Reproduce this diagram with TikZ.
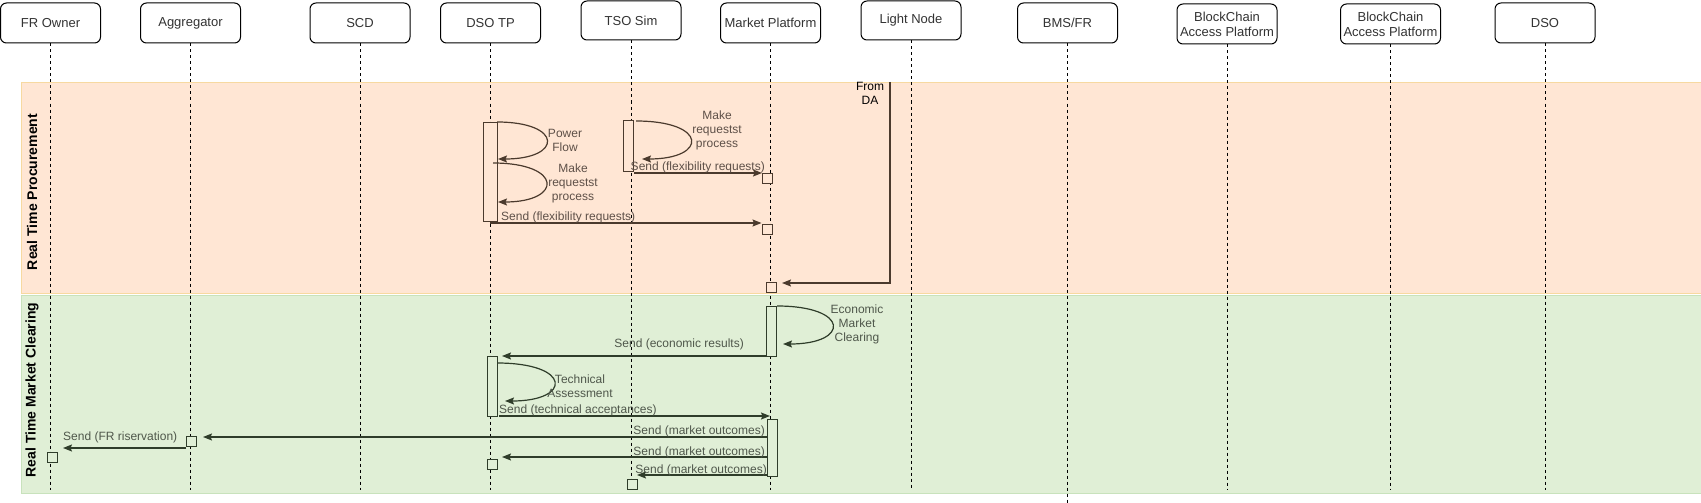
\documentclass[tikz,border=0pt]{standalone}
\usepackage{fontspec}
\setmainfont{Liberation Sans}
\usetikzlibrary{arrows.meta}
\definecolor{orfill}{HTML}{FFE6D4}
\definecolor{ordraw}{HTML}{F7D9A0}
\definecolor{grfill}{HTML}{E0EFD6}
\definecolor{grdraw}{HTML}{C8E2BC}
\definecolor{orline}{HTML}{4B3A2D}
\definecolor{grline}{HTML}{2F3D2A}
\definecolor{ortext}{HTML}{5E5048}
\definecolor{grtext}{HTML}{4F574B}
\definecolor{hdrtext}{HTML}{333333}
\tikzset{
  hdr/.style={draw=black, fill=white, line width=1pt, rounded corners=6pt, minimum width=100pt, minimum height=40pt, inner sep=1pt, align=center, font=\fontsize{13}{15}\selectfont, text=hdrtext},
  life/.style={draw=black, line width=0.8pt, dash pattern=on 3pt off 3pt},
  bandlabel/.style={rotate=90, font=\bfseries\fontsize{14}{16}\selectfont, text=black, inner sep=0},
  act/.style={draw, line width=1pt, inner sep=0, minimum width=10pt},
  dot/.style={draw, line width=1pt, minimum size=10pt, inner sep=0},
  msg/.style={line width=1.2pt, -{Stealth[length=9pt,width=7pt,inset=1.5pt]}},
  lbl/.style={font=\fontsize{12}{14}\selectfont, inner sep=0, align=center},
}
\begin{document}
\begin{tikzpicture}[x=1pt,y=-1pt]
\useasboundingbox (0,0) rectangle (1701,503);
% bands
\node[draw=ordraw, fill=orfill, line width=0.8pt, minimum width=1680pt, minimum height=210.5pt, inner sep=0, anchor=north west] (bandA) at (20.5,82) {};
\node[draw=grdraw, fill=grfill, line width=0.8pt, minimum width=1680pt, minimum height=198.5pt, inner sep=0, anchor=north west] (bandB) at (20.5,294.5) {};
\node[bandlabel] (labA) at (32,192) {Real Time Procurement};
\node[bandlabel] (labB) at (32,390) {Real Time Market Clearing};
% headers
\node[hdr] (fro) at (50.5,23) {FR Owner};
\node[hdr] (agg) at (190.5,23) {Aggregator};
\node[hdr] (scd) at (360,23) {SCD};
\node[hdr] (dtp) at (490.5,23) {DSO TP};
\node[hdr, minimum height=39pt] (tso) at (631,20.5) {TSO Sim};
\node[hdr] (mkp) at (770.5,23) {Market Platform};
\node[hdr, minimum height=39pt] (lgn) at (911,20.5) {Light Node};
\node[hdr] (bms) at (1067.5,23) {BMS/FR};
\node[hdr] (bc1) at (1227,24) {BlockChain\\Access Platform};
\node[hdr] (bc2) at (1390.5,24) {BlockChain\\Access Platform};
\node[hdr] (dso) at (1545,23) {DSO};
% lifeline ends
\coordinate (froE) at (50.5,490);
\coordinate (aggE) at (190.5,490);
\coordinate (scdE) at (360,490);
\coordinate (dtpE) at (490.5,490);
\coordinate (tsoE) at (631,490);
\coordinate (mkpE) at (770.5,490);
\coordinate (lgnE) at (911,490);
\coordinate (bmsE) at (1067.5,503);
\coordinate (bc1E) at (1227,490);
\coordinate (bc2E) at (1390.5,490);
\coordinate (dsoE) at (1545,490);
\foreach \n in {fro,agg,scd,dtp,tso,mkp,lgn,bms,bc1,bc2,dso}{
  \draw[life] (\n.south) -- (\n E);
}
% ---------- Real Time Procurement ----------
\node[act, draw=orline, fill=orfill, minimum width=14pt, minimum height=99pt] (a1) at (490,171.5) {};
\node[act, draw=orline, fill=orfill, minimum height=51pt] (a2) at (628,145.5) {};
\node[dot, draw=orline, fill=orfill] (p1) at (767.5,178) {};
\node[dot, draw=orline, fill=orfill] (p2) at (767,229) {};
\node[dot, draw=orline, fill=orfill] (p3) at (771,287) {};
% self loops
\coordinate (l1s) at (497,122); \coordinate (l1e) at (498,159);
\draw[msg, draw=orline] (l1s) .. controls (563,122) and (563,159) .. (l1e);
\node[lbl, text=ortext] (t1) at (565,140) {Power\\Flow};
\coordinate (l2s) at (493,163); \coordinate (l2e) at (498,202);
\draw[msg, draw=orline] (l2s) .. controls (563,163) and (563,202) .. (l2e);
\node[lbl, text=ortext] (t2) at (573,183) {Make\\requestst\\process};
\coordinate (l3s) at (636,121); \coordinate (l3e) at (642,159);
\draw[msg, draw=orline] (l3s) .. controls (708,121) and (708,159) .. (l3e);
\node[lbl, text=ortext] (t3) at (717,130) {Make\\requestst\\process};
% messages
\coordinate (m1s) at (634,173);
\draw[msg, draw=orline] (m1s) -- (p1.west |- m1s);
\node[lbl, text=ortext, anchor=east] (t4) at (765,167) {Send (flexibility requests)};
\coordinate (m2s) at (490,223);
\draw[msg, draw=orline] (m2s) -- (p2.west |- m2s);
\node[lbl, text=ortext, anchor=west] (t5) at (501,217) {Send (flexibility requests)};
\coordinate (da1) at (890,82); \coordinate (da2) at (890,283); \coordinate (da3) at (782,283);
\draw[msg, draw=orline] (da1) -- (da2) -- (da3);
\node[lbl, text=black] (t6) at (870,93) {From\\DA};
% ---------- Real Time Market Clearing ----------
\node[act, draw=grline, fill=grfill, minimum height=50pt] (b1) at (771,331) {};
\node[act, draw=grline, fill=grfill, minimum height=60pt] (b2) at (492,386) {};
\node[act, draw=grline, fill=grfill, minimum height=57pt] (b3) at (772.5,447.5) {};
\node[dot, draw=grline, fill=grfill] (q1) at (191.5,441) {};
\node[dot, draw=grline, fill=grfill] (q2) at (52,457) {};
\node[dot, draw=grline, fill=grfill] (q3) at (492,464) {};
\node[dot, draw=grline, fill=grfill] (q4) at (632,484) {};
% loops
\coordinate (l4s) at (777,306); \coordinate (l4e) at (783,344);
\draw[msg, draw=grline] (l4s) .. controls (850,306) and (850,344) .. (l4e);
\node[lbl, text=grtext] (t7) at (857,324) {Economic\\Market\\Clearing};
\coordinate (l5s) at (497,363); \coordinate (l5e) at (505,401);
\draw[msg, draw=grline] (l5s) .. controls (572,363) and (572,401) .. (l5e);
\node[lbl, text=grtext] (t8) at (580,386) {Technical\\Assessment};
% messages
\coordinate (n1s) at (766,356); \coordinate (n1e) at (502,356);
\draw[msg, draw=grline] (n1s) -- (n1e);
\node[lbl, text=grtext, anchor=east] (t9) at (744,344) {Send (economic results)};
\coordinate (n2s) at (499,416); \coordinate (n2e) at (770,416);
\draw[msg, draw=grline] (n2s) -- (n2e);
\node[lbl, text=grtext, anchor=west] (t10) at (499,410) {Send (technical acceptances)};
\coordinate (n3s) at (768,437); \coordinate (n3e) at (203,437);
\draw[msg, draw=grline] (n3s) -- (n3e);
\node[lbl, text=grtext, anchor=east] (t11) at (765,431) {Send (market outcomes)};
\coordinate (n4s) at (186,448); \coordinate (n4e) at (63,448);
\draw[msg, draw=grline] (n4s) -- (n4e);
\node[lbl, text=grtext, anchor=west] (t12) at (63,437) {Send (FR riservation)};
\coordinate (n5s) at (768,457); \coordinate (n5e) at (502,457);
\draw[msg, draw=grline] (n5s) -- (n5e);
\node[lbl, text=grtext, anchor=east] (t13) at (765,452) {Send (market outcomes)};
\coordinate (n6s) at (768,475); \coordinate (n6e) at (637,475);
\draw[msg, draw=grline] (n6s) -- (n6e);
\node[lbl, text=grtext, anchor=east] (t14) at (767,470) {Send (market outcomes)};
\end{tikzpicture}
\end{document}
